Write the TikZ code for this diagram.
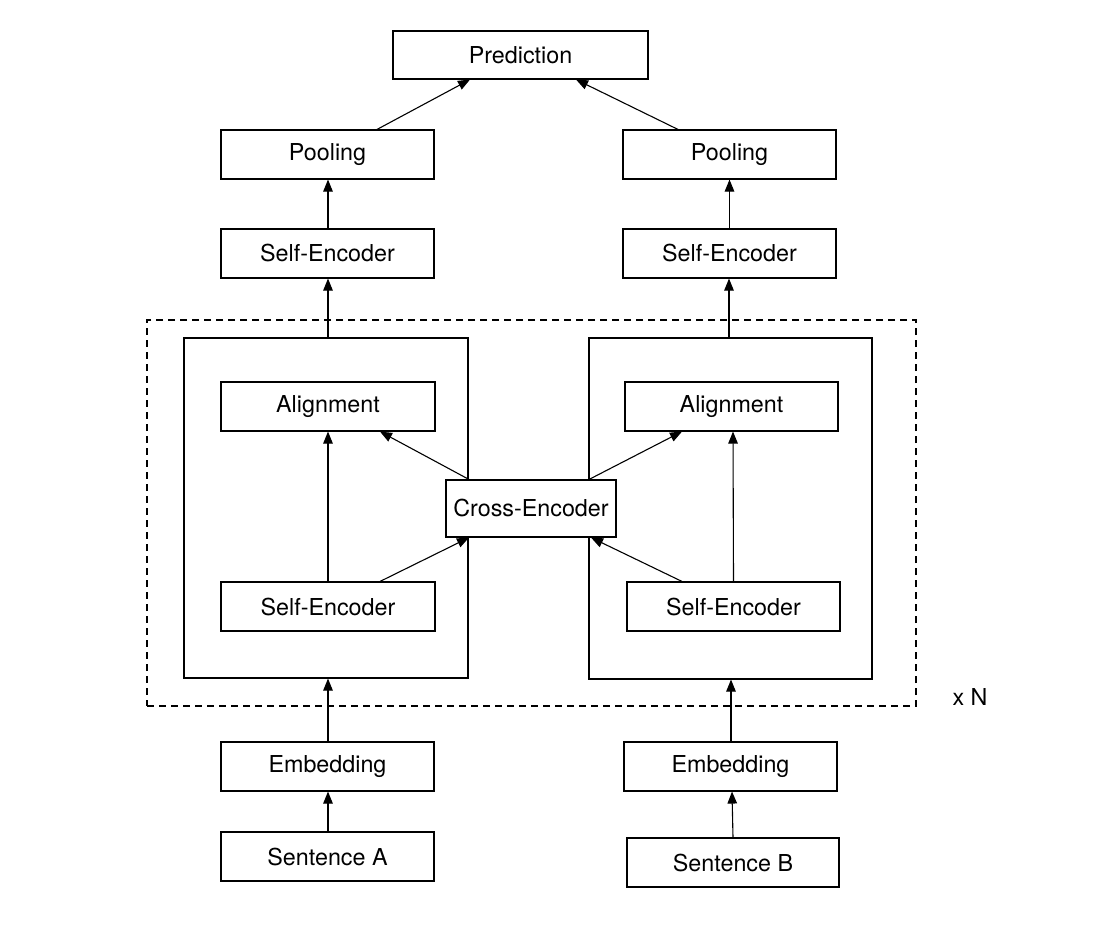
\documentclass[tikz,border=0pt]{standalone}
\usepackage{fontspec}
\setmainfont{TeX Gyre Heros}
\usetikzlibrary{arrows.meta}
\begin{document}
\begin{tikzpicture}[x=1pt,y=-1pt,
  box/.style={draw, line width=1.1pt, fill=white, inner sep=0pt, font=\fontsize{23.3}{28}\selectfont},
  frame/.style={draw, line width=1.1pt, inner sep=0pt},
  arr/.style={line width=1.1pt, -{Triangle[length=12pt,width=9.5pt]}}]
\useasboundingbox (0,0) rectangle (1094,942);
% boxes: center, width, height
\node[box, minimum width=255pt, minimum height=48pt] (pred) at (520.5,55) {Prediction};
\node[box, minimum width=213pt, minimum height=49pt] (poolL) at (327.5,154.5) {Pooling};
\node[box, minimum width=213pt, minimum height=49pt] (poolR) at (729.5,154.5) {Pooling};
\node[box, minimum width=213pt, minimum height=49pt] (seTL) at (327.5,253.5) {Self-Encoder};
\node[box, minimum width=213pt, minimum height=49pt] (seTR) at (729.5,253.5) {Self-Encoder};
\node[frame, dashed, dash pattern=on 7pt off 5pt, minimum width=769pt, minimum height=386pt] (rep) at (531.5,513) {};
\node[frame, minimum width=284pt, minimum height=340pt] (inL) at (326,508) {};
\node[frame, minimum width=283pt, minimum height=341pt] (inR) at (730.5,508.5) {};
\node[box, minimum width=214pt, minimum height=49pt] (alL) at (328,406.5) {Alignment};
\node[box, minimum width=213pt, minimum height=49pt] (alR) at (731.5,406.5) {Alignment};
\node[box, minimum width=170pt, minimum height=57pt] (cross) at (531,508.5) {Cross-Encoder};
\node[box, minimum width=214pt, minimum height=49pt] (seL) at (328,606.5) {Self-Encoder};
\node[box, minimum width=213pt, minimum height=49pt] (seR) at (733.5,606.5) {Self-Encoder};
\node[box, minimum width=213pt, minimum height=49pt] (embL) at (327.5,766.5) {Embedding};
\node[box, minimum width=213pt, minimum height=49pt] (embR) at (730.5,766.5) {Embedding};
\node[box, minimum width=213pt, minimum height=49pt] (senA) at (327.5,856.5) {Sentence A};
\node[box, minimum width=212pt, minimum height=49pt] (senB) at (733,862.5) {Sentence B};
\node[font=\fontsize{23.3}{28}\selectfont, inner sep=0pt] (xn) at (970,697) {x N};
% arrows
\draw[arr] ([xshift=49.5pt]poolL.north) -- ([xshift=-50.5pt]pred.south);
\draw[arr] ([xshift=-51.5pt]poolR.north) -- ([xshift=55.5pt]pred.south);
\draw[arr] ([xshift=0.5pt]seTL.north) -- ([xshift=0.5pt]poolL.south);
\draw[arr] (seTR.north) -- (poolR.south);
\draw[arr] ([xshift=2pt]inL.north) -- ([xshift=0.5pt]seTL.south);
\draw[arr] ([xshift=-1.5pt]inR.north) -- ([xshift=-0.5pt]seTR.south);
\draw[arr] ([xshift=0.5pt]embL.north) -- ([xshift=2pt]inL.south);
\draw[arr] ([xshift=0.5pt]embR.north) -- ([xshift=0.5pt]inR.south);
\draw[arr] ([xshift=0.5pt]senA.north) -- ([xshift=0.5pt]embL.south);
\draw[arr] (senB.north) -- ([xshift=1.5pt]embR.south);
\draw[arr] (seL.north) -- (alL.north |- alL.south);
\draw[arr] (seR.north) -- ([xshift=1.5pt]alR.south);
\draw[arr] ([xshift=-62pt]cross.north) -- ([xshift=52pt]alL.south);
\draw[arr] ([xshift=58pt]cross.north) -- ([xshift=-49.5pt]alR.south);
\draw[arr] ([xshift=52pt]seL.north) -- ([xshift=-62pt]cross.south);
\draw[arr] ([xshift=-51.5pt]seR.north) -- ([xshift=60pt]cross.south);
\end{tikzpicture}
\end{document}
